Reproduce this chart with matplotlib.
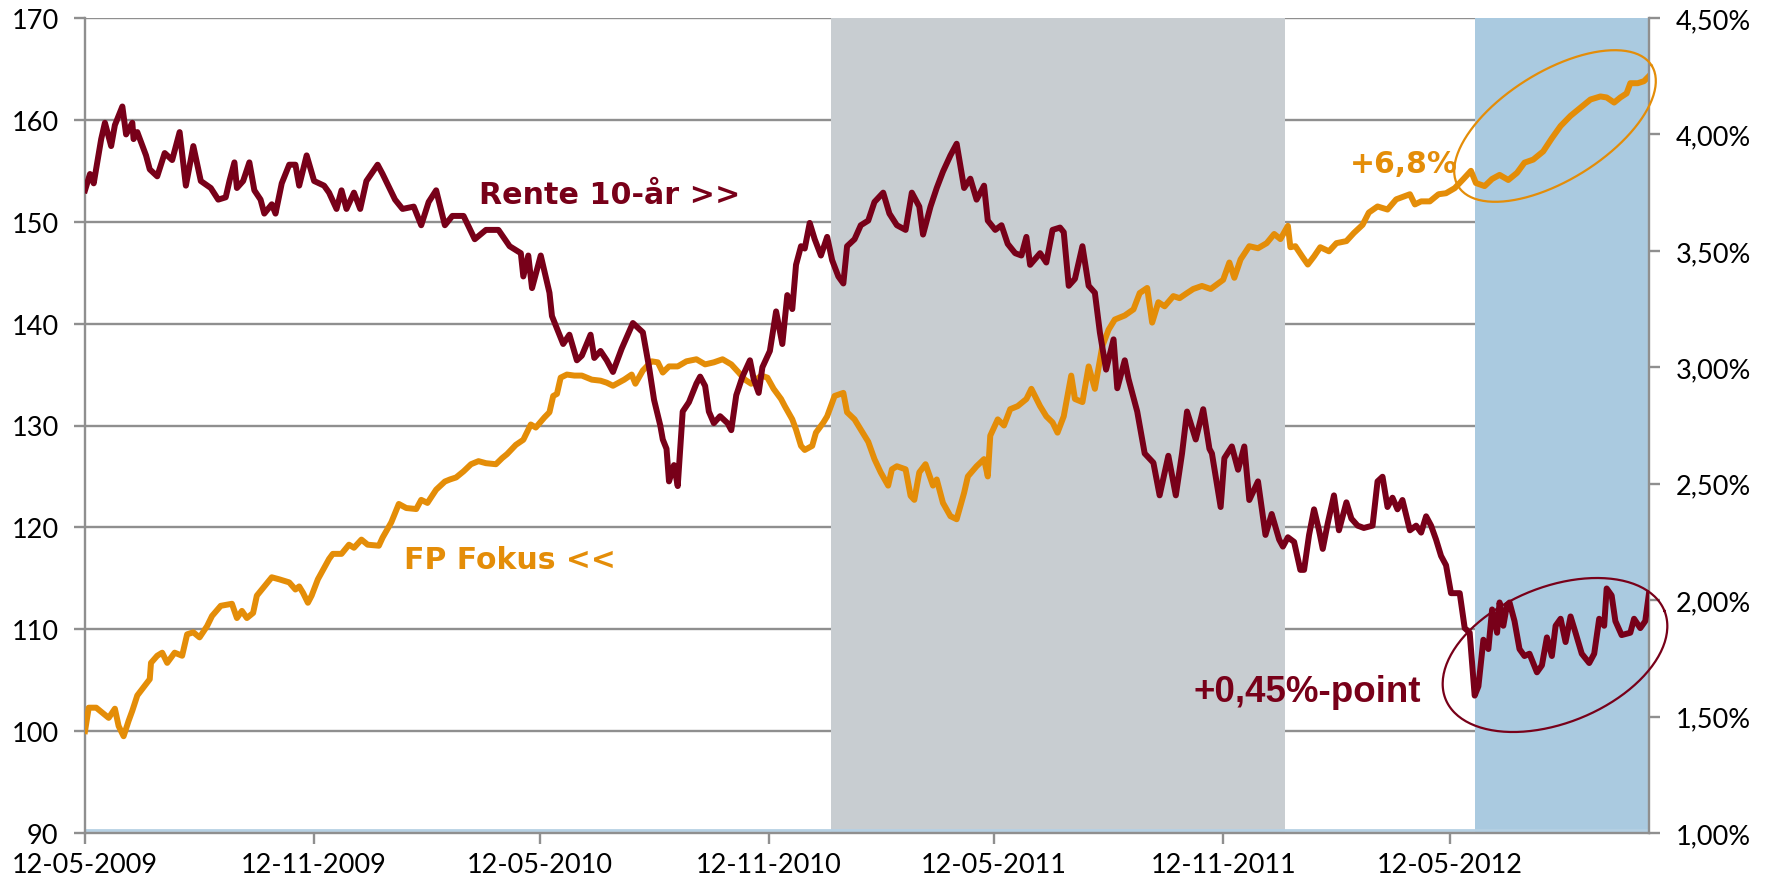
import numpy as np
import pandas as pd
import matplotlib
matplotlib.use("Agg")
import matplotlib.pyplot as plt
import matplotlib.dates as mdates
from matplotlib.ticker import MultipleLocator, FuncFormatter

# start date of both series, offsets in days
start = pd.Timestamp("2009-05-12")

fokus_days = [0, 3, 9, 15, 19, 24, 27, 31, 35, 38, 42, 47, 52, 53, 58, 62, 66, 72, 78, 82,
              87, 92, 98, 102, 109, 118, 122, 126, 130, 135, 138, 144, 150, 156, 164, 169, 172, 175, 179, 182,
              187, 192, 196, 199, 206, 212, 216, 222, 227, 236, 239, 246, 252, 258, 266, 270, 275, 282, 289, 293,
              298, 304, 310, 316, 322, 330, 335, 339, 346, 352, 358, 362, 369, 373, 376, 379, 382, 387, 393, 399,
              407, 414, 419, 424, 433, 439, 442, 448, 455, 460, 464, 469, 476, 483, 491, 498, 505, 512, 519, 525,
              530, 535, 543, 548, 553, 559, 562, 568, 571, 575, 578, 584, 587, 593, 596, 602, 609, 612, 618, 623,
              629, 634, 639, 645, 648, 652, 659, 663, 666, 670, 675, 681, 684, 689, 695, 700, 706, 709, 716, 722,
              725, 727, 733, 738, 743, 749, 756, 760, 767, 772, 777, 781, 786, 792, 795, 801, 806, 811, 817, 822,
              827, 835, 842, 847, 853, 857, 862, 867, 874, 879, 885, 890, 897, 904, 914, 919, 923, 928, 935, 942,
              949, 955, 960, 966, 968, 972, 978, 982, 987, 992, 999, 1005, 1013, 1019, 1026, 1031, 1038, 1046, 1053, 1064,
              1068, 1073, 1080, 1087, 1093, 1100, 1107, 1113, 1117, 1124, 1130, 1136, 1143, 1150, 1156, 1163, 1171, 1178, 1185, 1193,
              1201, 1209, 1217, 1222, 1228, 1233, 1238, 1241, 1247, 1252, 1256]
fokus_vals = [100, 102.3, 102.3, 101.7, 101.3, 102.2, 100.5, 99.5, 101, 102, 103.5, 104.3, 105.1, 106.7, 107.4, 107.7, 106.7, 107.7, 107.4, 109.5,
              109.7, 109.2, 110.3, 111.3, 112.3, 112.5, 111.1, 111.8, 111.1, 111.6, 113.3, 114.2, 115.1, 114.9, 114.6, 113.9, 114.2, 113.6, 112.6, 113.3,
              114.9, 116, 116.9, 117.4, 117.4, 118.3, 118, 118.8, 118.3, 118.2, 119, 120.5, 122.3, 121.9, 121.8, 122.7, 122.4, 123.7, 124.5, 124.7,
              124.9, 125.5, 126.2, 126.5, 126.3, 126.2, 126.8, 127.2, 128.1, 128.6, 130.1, 129.8, 130.8, 131.3, 132.9, 133.1, 134.7, 135, 134.9, 134.9,
              134.5, 134.4, 134.2, 133.9, 134.5, 135, 134.1, 135.4, 136.3, 136.2, 135.2, 135.8, 135.8, 136.3, 136.5, 136, 136.2, 136.5, 136, 135.2,
              134.5, 134.1, 134.9, 134.7, 133.6, 132.6, 131.9, 130.6, 129.6, 128, 127.6, 128, 129.3, 130.3, 130.9, 132.9, 133.2, 131.3, 130.6, 129.6,
              128.4, 126.7, 125.4, 124.1, 125.7, 126, 125.7, 123.1, 122.7, 125.4, 126.2, 124.1, 124.7, 122.4, 121.1, 120.8, 123.4, 125, 126, 126.7,
              125, 129, 130.6, 130, 131.6, 131.9, 132.6, 133.6, 131.9, 130.9, 130.3, 129.3, 130.9, 134.9, 132.6, 132.3, 135.8, 133.6, 137.8, 139.4,
              140.4, 140.8, 141.4, 143, 143.5, 140.1, 142.1, 141.7, 142.7, 142.5, 143, 143.4, 143.7, 143.4, 144.3, 146, 144.5, 146.3, 147.6, 147.4,
              147.9, 148.8, 148.3, 149.6, 147.5, 147.6, 146.5, 145.8, 146.6, 147.5, 147.1, 147.9, 148.1, 148.9, 149.7, 150.9, 151.5, 151.2, 152.2, 152.7,
              151.7, 152, 152, 152.7, 152.8, 153.3, 154.2, 155, 153.8, 153.5, 154.2, 154.6, 154.1, 154.8, 155.8, 156.1, 156.9, 158.2, 159.4, 160.4,
              161.2, 162, 162.3, 162.2, 161.7, 162.2, 162.6, 163.6, 163.6, 163.8, 164.3]

rente_days = [0, 4, 7, 13, 16, 21, 24, 30, 33, 38, 39, 42, 49, 52, 58, 64, 70, 76, 81, 87,
              93, 101, 107, 113, 116, 120, 122, 127, 132, 136, 141, 144, 150, 153, 158, 164, 169, 172, 178, 184,
              192, 196, 202, 206, 210, 216, 221, 226, 235, 239, 249, 255, 264, 270, 276, 282, 289, 295, 304, 313,
              322, 332, 341, 350, 352, 356, 359, 366, 373, 375, 381, 384, 389, 395, 399, 406, 409, 414, 419, 424,
              431, 440, 448, 453, 457, 462, 464, 467, 469, 473, 476, 480, 485, 491, 494, 498, 501, 505, 510, 516,
              519, 523, 528, 534, 537, 541, 544, 550, 555, 560, 564, 568, 571, 575, 578, 582, 586, 591, 596, 600,
              605, 609, 612, 618, 623, 629, 634, 641, 646, 652, 659, 664, 670, 673, 679, 684, 689, 695, 700, 706,
              711, 716, 722, 725, 731, 736, 741, 747, 752, 756, 759, 767, 772, 777, 783, 786, 790, 795, 801, 806,
              811, 815, 820, 826, 829, 835, 838, 845, 851, 858, 863, 870, 876, 881, 885, 892, 898, 903, 905, 912,
              915, 921, 926, 931, 935, 942, 948, 953, 959, 962, 966, 971, 976, 979, 983, 987, 991, 994, 998, 1003,
              1007, 1013, 1017, 1022, 1027, 1034, 1038, 1042, 1046, 1050, 1054, 1058, 1064, 1069, 1073, 1077, 1081, 1085, 1089, 1093,
              1097, 1104, 1108, 1112, 1116, 1119, 1123, 1127, 1130, 1134, 1136, 1139, 1142, 1144, 1148, 1152, 1156, 1160, 1166, 1170,
              1174, 1178, 1181, 1185, 1189, 1193, 1197, 1202, 1208, 1212, 1216, 1220, 1222, 1226, 1229, 1234, 1241, 1244, 1249, 1253, 1256]
rente_pct = [3.76, 3.83, 3.79, 3.98, 4.05, 3.95, 4.04, 4.12, 4.00, 4.05, 3.98, 4.01, 3.91, 3.85, 3.82, 3.92, 3.89, 4.01, 3.78, 3.95,
             3.80, 3.77, 3.72, 3.73, 3.80, 3.88, 3.77, 3.80, 3.88, 3.76, 3.72, 3.66, 3.70, 3.66, 3.79, 3.87, 3.87, 3.78, 3.91, 3.80,
             3.78, 3.75, 3.68, 3.76, 3.68, 3.75, 3.68, 3.80, 3.87, 3.83, 3.72, 3.68, 3.69, 3.61, 3.71, 3.76, 3.61, 3.65, 3.65, 3.55,
             3.59, 3.59, 3.52, 3.49, 3.39, 3.48, 3.34, 3.48, 3.32, 3.22, 3.14, 3.10, 3.14, 3.03, 3.05, 3.14, 3.04, 3.07, 3.03, 2.98,
             3.08, 3.19, 3.15, 3.00, 2.86, 2.75, 2.69, 2.65, 2.51, 2.58, 2.49, 2.81, 2.85, 2.93, 2.96, 2.92, 2.81, 2.76, 2.79, 2.76,
             2.73, 2.88, 2.96, 3.03, 2.95, 2.89, 3.00, 3.07, 3.24, 3.10, 3.31, 3.25, 3.44, 3.52, 3.51, 3.62, 3.55, 3.48, 3.56, 3.46,
             3.39, 3.36, 3.52, 3.55, 3.61, 3.63, 3.71, 3.75, 3.66, 3.61, 3.59, 3.75, 3.69, 3.57, 3.69, 3.77, 3.84, 3.91, 3.96, 3.77,
             3.81, 3.72, 3.78, 3.63, 3.59, 3.61, 3.53, 3.49, 3.48, 3.56, 3.44, 3.49, 3.45, 3.59, 3.60, 3.58, 3.35, 3.38, 3.52, 3.35,
             3.32, 3.15, 2.99, 3.12, 2.91, 3.03, 2.95, 2.81, 2.63, 2.59, 2.45, 2.62, 2.45, 2.63, 2.81, 2.69, 2.82, 2.65, 2.63, 2.40,
             2.61, 2.66, 2.56, 2.66, 2.43, 2.51, 2.28, 2.37, 2.26, 2.23, 2.27, 2.25, 2.13, 2.13, 2.28, 2.39, 2.30, 2.22, 2.33, 2.45,
             2.30, 2.42, 2.35, 2.32, 2.31, 2.32, 2.51, 2.53, 2.40, 2.44, 2.39, 2.43, 2.30, 2.32, 2.29, 2.36, 2.32, 2.26, 2.19, 2.15,
             2.03, 2.03, 1.88, 1.86, 1.59, 1.63, 1.83, 1.79, 1.96, 1.86, 1.99, 1.89, 1.98, 1.99, 1.91, 1.79, 1.76, 1.77, 1.69, 1.72,
             1.84, 1.76, 1.89, 1.92, 1.82, 1.93, 1.86, 1.77, 1.73, 1.77, 1.92, 1.89, 2.05, 2.02, 1.91, 1.85, 1.86, 1.92, 1.88, 1.91, 2.03]

# shaded periods
grey_period = ("2011-01-01", "2012-01-01")
blue_period = ("2012-06-01", "2012-10-19")

RED = "#780019"
ORANGE = "#E48D08"
GRID = "#8F8F8F"

fokus_dates = start + pd.to_timedelta(fokus_days, unit="D")
rente_dates = start + pd.to_timedelta(rente_days, unit="D")

fig = plt.figure(figsize=(17.69, 8.87), dpi=100)
ax = fig.add_axes([85 / 1769, 53 / 887, 1564 / 1769, 815 / 887])
ax2 = ax.twinx()

ax.set_axisbelow(True)
ax.grid(axis="y", color=GRID, lw=1.7)
ax.axvspan(pd.Timestamp(grey_period[0]), pd.Timestamp(grey_period[1]), color="#C8CDD1", lw=0, zorder=1)
ax.axvspan(pd.Timestamp(blue_period[0]), pd.Timestamp(blue_period[1]), color="#AACAE0", lw=0, zorder=1)
ax.axhline(90.3, color="#B5D0E3", lw=2, zorder=1.5)

ax.plot(fokus_dates, fokus_vals, color=ORANGE, lw=4.3, zorder=3, solid_joinstyle="round")
ax2.plot(rente_dates, rente_pct, color=RED, lw=4.3, zorder=3, solid_joinstyle="round")

ax.set_xlim(start, fokus_dates[-1])
ax.set_ylim(90, 170)
ax.yaxis.set_major_locator(MultipleLocator(10))
ax2.set_ylim(1.0, 4.5)
ax2.yaxis.set_major_locator(MultipleLocator(0.5))
ax2.yaxis.set_major_formatter(FuncFormatter(lambda v, p: ("%.2f%%" % v).replace(".", ",")))

ax.xaxis.set_major_locator(mdates.MonthLocator(bymonth=[5, 11], bymonthday=12))
ax.xaxis.set_major_formatter(mdates.DateFormatter("%d-%m-%Y"))

for a in (ax, ax2):
    for s in a.spines.values():
        s.set_color(GRID)
        s.set_linewidth(1.7)
    a.spines["top"].set_visible(False)
ax.spines["right"].set_visible(False)
ax2.spines["left"].set_visible(False)
ax2.spines["bottom"].set_visible(False)

ax.tick_params(axis="x", length=8, width=1.7, color=GRID, pad=6, labelsize=19.5)
ax.tick_params(axis="y", length=8, width=1.7, color=GRID, pad=11, labelsize=19.5)
ax2.tick_params(axis="y", length=8, width=1.7, color=GRID, pad=11, labelsize=19.5)
for lab in ax.get_xticklabels() + ax.get_yticklabels() + ax2.get_yticklabels():
    lab.set_fontfamily("Lato")

# annotations
ax.text(0.252, 0.784, "Rente 10-år >>", transform=ax.transAxes, color=RED, fontsize=21.7,
        fontweight="bold", ha="left", va="center", zorder=5)
ax.text(0.204, 0.335, "FP Fokus <<", transform=ax.transAxes, color=ORANGE, fontsize=21.5,
        fontweight="bold", ha="left", va="center", zorder=5)
ax.text(0.809, 0.821, "+6,8%", transform=ax.transAxes, color=ORANGE, fontsize=21.5,
        fontweight="bold", ha="left", va="center", zorder=5)
ax.text(0.709, 0.174, "+0,45%-point", transform=ax.transAxes, color=RED, fontsize=26.5,
        fontweight="bold", family="Liberation Sans", ha="left", va="center", zorder=5)


def ring(cx, cy, a, b, ang, color):
    # ellipse given in axes pixels, drawn in axes fraction
    t = np.linspace(0, 2 * np.pi, 200)
    th = np.radians(ang)
    x = cx + a * np.cos(th) * np.cos(t) - b * np.sin(th) * np.sin(t)
    y = cy + a * np.sin(th) * np.cos(t) + b * np.cos(th) * np.sin(t)
    ax2.plot(x / 1564, y / 815, transform=ax.transAxes, color=color, lw=1.6, zorder=6, clip_on=False)


ring(1470, 707, 114, 54, 32, ORANGE)
ring(1470, 178, 118, 68, 22, RED)

fig.savefig("out.png", dpi=100)
